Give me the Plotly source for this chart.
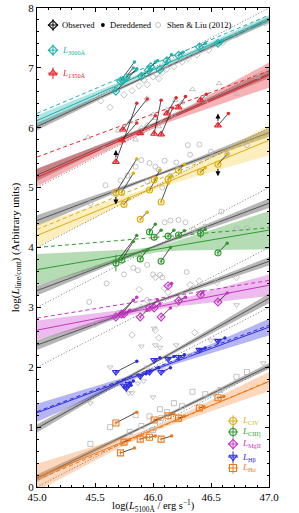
import numpy as np
import plotly.graph_objects as go

# ---------------- data ----------------
names = ["L3000", "L1350", "CIV", "CIII", "MgII", "Hb", "Ha"]
labels = ["<i>L</i><sub>3000Å</sub>", "<i>L</i><sub>1350Å</sub>", "<i>L</i><sub>CIV</sub>",
          "<i>L</i><sub>CIII]</sub>", "<i>L</i><sub>MgII</sub>", "<i>L</i><sub>Hβ</sub>", "<i>L</i><sub>Hα</sub>"]
colors = ["#1bb3ad", "#e8232b", "#dcae10", "#2e9b2e", "#c534c5", "#2a2ae0", "#f07818"]
band_rgb = ["27,179,173", "232,35,43", "250,205,70", "46,155,46", "205,60,205", "42,42,224", "250,140,60"]
symbols = ["diamond", "triangle-up", "circle", "circle", "diamond", "triangle-down", "square"]

# colored fit lines (log L_line at logL5100 = 45 and 47) and confidence half widths
fit_y45 = [6.12, 5.17, 4.20, 3.63, 2.62, 1.24, 0.16]
fit_y47 = [7.82, 6.88, 5.79, 4.29, 3.37, 2.67, 1.76]
fit_hw_min = [0.03, 0.04, 0.04, 0.05, 0.04, 0.03, 0.04]
fit_hw_lo = [0.09, 0.15, 0.19, 0.26, 0.16, 0.15, 0.23]
fit_hw_hi = [0.06, 0.21, 0.25, 0.32, 0.18, 0.14, 0.16]

# Shen & Liu (2012) fit lines (gray)
sl_y45 = [6.02, 5.21, 4.45, 3.28, 2.37, 0.98, 0.15]
sl_y47 = [7.80, 6.90, 5.92, 4.74, 3.77, 3.15, 2.02]
sl_hw_min = [0.02, 0.02, 0.02, 0.02, 0.02, 0.02, 0.02]
sl_hw_lo = [0.06, 0.10, 0.09, 0.08, 0.08, 0.07, 0.06]
sl_hw_hi = [0.05, 0.07, 0.07, 0.08, 0.07, 0.08, 0.05]

# dashed colored lines
dash_y45 = [6.24, 5.51, 4.30, 4.00, 2.82, 1.26, 0.12]
dash_y47 = [7.88, 6.95, 5.90, 4.33, 3.45, 2.70, 1.77]

# slope-one reference (dotted)
dot_y45 = [6, 5, 4, 3, 2, 1, 0]

# observed points
obs_x = [
    [45.68, 45.72, 45.74, 45.77, 45.90, 45.96, 45.98, 46.06, 46.12, 46.22, 46.40, 46.56],
    [45.68, 45.73, 45.74, 45.89, 46.01, 46.07, 46.12, 46.22, 46.41, 46.56],
    [45.68, 45.73, 45.75, 45.89, 45.97, 46.01, 46.07, 46.13, 46.22, 46.41, 46.56],
    [45.68, 45.73, 45.89, 45.97, 46.01, 46.07, 46.13, 46.22, 46.41, 46.56],
    [45.68, 45.73, 45.75, 45.89, 45.97, 46.01, 46.07, 46.13, 46.22, 46.41, 46.56],
    [45.68, 45.75, 45.77, 45.79, 45.89, 45.97, 46.01, 46.07, 46.13, 46.22, 46.40, 46.56],
    [45.68, 45.72, 45.75, 45.89, 45.97, 46.01, 46.07, 46.13, 46.22, 46.40, 46.56],
]
obs_y = [
    [6.61, 6.78, 6.79, 6.84, 6.86, 6.96, 7.02, 6.97, 7.12, 7.21, 7.35, 7.41],
    [5.43, 5.79, 5.97, 5.91, 5.90, 5.89, 6.24, 6.34, 6.46, 6.04],
    [4.92, 4.92, 4.72, 4.47, 4.96, 5.13, 4.76, 5.14, 5.29, 5.26, 5.39],
    [3.74, 3.79, 3.81, 4.26, 4.17, 3.77, 4.19, 4.21, 4.24, 3.91],
    [2.84, 2.89, 2.89, 2.84, 3.00, 2.99, 2.84, 3.36, 3.11, 3.21, 3.09],
    [1.92, 1.69, 1.65, 1.72, 1.85, 1.92, 2.12, 1.92, 2.14, 2.17, 2.29, 2.44],
    [1.07, 0.57, 0.75, 0.80, 0.83, 1.12, 0.80, 1.19, 1.15, 1.32, 1.49],
]
obs_yerr = [
    [0.03] * 12,
    [0.03] * 10,
    [0.03] * 11,
    [0.14, 0.04, 0.04, 0.05, 0.04, 0.04, 0.04, 0.04, 0.08, 0.04],
    [0.03] * 11,
    [0.03] * 12,
    [0.03] * 11,
]
# dereddened points
der_x = [
    [45.86, 45.84, 45.83, 45.86, 45.98, 46.02, 46.04, 46.12, 46.16, 46.26, 46.45, 46.60],
    [45.86, 45.86, 45.95, 46.02, 46.07, 46.17, 46.20, 46.28, 46.46, 46.65],
    [45.86, 45.83, 45.79, 45.95, 46.03, 46.06, 46.13, 46.16, 46.27, 46.45, 46.64],
    [45.86, 45.83, 45.95, 46.02, 46.07, 46.15, 46.18, 46.27, 46.45, 46.64],
    [45.86, 45.83, 45.80, 45.95, 46.04, 46.06, 46.15, 46.16, 46.28, 46.43, 46.64],
    [45.86, 45.80, 45.81, 45.83, 45.94, 46.05, 46.06, 46.15, 46.18, 46.27, 46.45, 46.62],
    [45.86, 45.84, 45.80, 45.94, 46.02, 46.06, 46.16, 46.18, 46.27, 46.44, 46.61],
]
der_y = [
    [6.98, 7.10, 7.00, 6.98, 6.97, 7.10, 7.12, 7.08, 7.22, 7.26, 7.41, 7.45],
    [6.41, 6.08, 6.48, 6.20, 6.46, 6.33, 6.50, 6.52, 6.56, 6.24],
    [5.48, 5.24, 4.82, 4.59, 5.16, 5.29, 5.07, 5.20, 5.39, 5.33, 5.56],
    [4.20, 4.10, 3.96, 4.39, 4.29, 4.00, 4.29, 4.28, 4.30, 4.07],
    [3.17, 3.12, 2.95, 2.95, 3.12, 3.06, 2.99, 3.40, 3.17, 3.26, 3.24],
    [2.10, 1.74, 1.70, 1.77, 1.89, 1.99, 2.16, 1.99, 2.18, 2.21, 2.32, 2.49],
    [1.25, 0.65, 0.79, 0.83, 0.85, 1.14, 0.85, 1.22, 1.18, 1.34, 1.51],
]
# limits: (group index, point index, direction)
lim_group = [1, 1, 2, 2]
lim_index = [0, 9, 0, 10]
lim_dir = [1, 1, -1, -1]

# Shen & Liu (2012) sample
sl_x = [
    [45.63, 45.75, 45.82, 45.88, 45.92, 45.95, 46.00, 46.03, 46.08, 46.12, 46.18, 46.25, 46.30, 46.38, 46.48, 46.60, 46.72, 46.81, 46.97, 45.95, 46.05, 45.55],
    [45.44, 45.58, 45.70, 45.80, 45.90, 45.95, 46.00, 46.02, 46.08, 46.12, 46.18, 46.25, 46.34, 46.45, 46.57, 46.72, 46.90, 45.85, 46.05, 46.19],
    [45.46, 45.59, 45.66, 45.78, 45.85, 45.90, 45.95, 45.97, 46.02, 46.05, 46.10, 46.15, 46.20, 46.30, 46.32, 46.40, 46.50, 46.64, 46.81, 45.72, 46.08],
    [45.45, 45.60, 45.75, 45.83, 45.87, 45.95, 46.06, 46.08, 46.10, 46.15, 46.22, 46.28, 46.35, 46.45, 46.59, 46.72, 46.81, 46.00, 46.29],
    [45.50, 45.70, 45.82, 45.90, 45.95, 46.00, 46.02, 46.05, 46.10, 46.13, 46.20, 46.25, 46.32, 46.40, 46.55, 46.72, 45.88, 46.02, 46.36],
    [45.46, 45.63, 45.79, 45.82, 45.87, 45.92, 45.95, 46.00, 46.02, 46.06, 46.10, 46.20, 46.30, 46.50, 46.72, 46.95, 46.01, 45.90],
    [45.46, 45.63, 45.80, 45.90, 45.97, 46.00, 46.06, 46.12, 46.18, 46.25, 46.34, 46.45, 46.58, 46.72, 46.81, 46.07, 45.85],
]
sl_yv = [
    [6.34, 6.55, 6.62, 6.70, 6.80, 6.48, 6.85, 6.90, 6.92, 6.98, 7.02, 7.10, 7.16, 7.22, 7.30, 7.42, 7.55, 7.66, 7.75, 6.72, 6.82, 6.45],
    [5.84, 5.65, 5.95, 6.10, 6.00, 6.05, 6.22, 6.16, 6.10, 6.30, 6.20, 6.42, 6.64, 6.45, 6.74, 6.56, 6.85, 5.80, 6.02, 6.46],
    [4.74, 5.04, 4.90, 5.20, 5.35, 5.46, 5.10, 5.41, 5.35, 5.30, 5.45, 5.20, 5.42, 5.71, 5.55, 5.72, 5.60, 5.56, 5.71, 5.12, 5.00],
    [3.09, 3.40, 3.55, 3.66, 3.62, 3.71, 3.54, 3.50, 4.42, 4.45, 4.46, 4.42, 4.30, 4.35, 4.60, 4.32, 4.32, 3.55, 3.59],
    [2.72, 2.90, 2.54, 3.00, 3.12, 3.08, 2.62, 2.49, 3.32, 3.25, 3.05, 3.20, 3.38, 3.44, 3.42, 3.50, 3.30, 3.50, 2.58],
    [1.40, 2.00, 1.57, 1.57, 1.73, 1.77, 2.00, 1.50, 2.37, 2.33, 1.95, 2.37, 2.20, 2.45, 3.04, 2.07, 2.65, 2.35],
    [0.72, 1.00, 0.92, 1.02, 1.18, 0.95, 1.30, 1.25, 1.40, 1.35, 1.59, 1.55, 1.62, 1.84, 1.92, 1.15, 1.20],
]

x_ticks = [45.0, 45.5, 46.0, 46.5, 47.0]
y_ticks = [0, 1, 2, 3, 4, 5, 6, 7, 8]

FONT = "Liberation Serif"
GRAY_SYM = "#b4b4b4"

fig = go.Figure()
xs = np.linspace(45, 47, 61)


def band(y0, y1, hmin, hlo, hhi):
    line = y0 + (y1 - y0) * (xs - 45) / 2.0
    d = xs - 46.0
    hw = np.where(d < 0, np.sqrt(hmin ** 2 + (hlo ** 2 - hmin ** 2) * d ** 2),
                  np.sqrt(hmin ** 2 + (hhi ** 2 - hmin ** 2) * d ** 2))
    return line, line + hw, line - hw


for g in range(len(names)):
    ln, up, lo = band(sl_y45[g], sl_y47[g], sl_hw_min[g], sl_hw_lo[g], sl_hw_hi[g])
    fig.add_trace(go.Scatter(x=np.concatenate([xs, xs[::-1]]), y=np.concatenate([up, lo[::-1]]),
                             fill="toself", fillcolor="rgba(110,110,110,0.5)", line=dict(width=0),
                             mode="lines", hoverinfo="skip", showlegend=False))
    fig.add_trace(go.Scatter(x=xs, y=ln, mode="lines", line=dict(color="#555555", width=1),
                             showlegend=False))
    ln, up, lo = band(fit_y45[g], fit_y47[g], fit_hw_min[g], fit_hw_lo[g], fit_hw_hi[g])
    fig.add_trace(go.Scatter(x=np.concatenate([xs, xs[::-1]]), y=np.concatenate([up, lo[::-1]]),
                             fill="toself", fillcolor=f"rgba({band_rgb[g]},0.35)", line=dict(width=0),
                             mode="lines", hoverinfo="skip", showlegend=False))
    fig.add_trace(go.Scatter(x=xs, y=ln, mode="lines", line=dict(color=colors[g], width=1),
                             showlegend=False))
    fig.add_trace(go.Scatter(x=[45, 47], y=[dash_y45[g], dash_y47[g]], mode="lines",
                             line=dict(color=colors[g], width=1, dash="4px,3px"), showlegend=False))
    fig.add_trace(go.Scatter(x=[45, 47], y=[dot_y45[g], dot_y45[g] + 2], mode="lines",
                             line=dict(color="#666666", width=0.9, dash="1px,2px"), showlegend=False))

for g in range(len(names)):
    fig.add_trace(go.Scatter(x=sl_x[g], y=sl_yv[g], mode="markers",
                             marker=dict(symbol=symbols[g] + "-open", size=5, color=GRAY_SYM,
                                         line=dict(width=0.8, color=GRAY_SYM)),
                             showlegend=False))

for g in range(len(names)):
    cx, cy = [], []
    for i in range(len(obs_x[g])):
        cx += [obs_x[g][i], der_x[g][i], None]
        cy += [obs_y[g][i], der_y[g][i], None]
    fig.add_trace(go.Scatter(x=cx, y=cy, mode="lines", line=dict(color="#222222", width=0.8),
                             showlegend=False))
    fig.add_trace(go.Scatter(x=obs_x[g], y=obs_y[g], mode="markers",
                             marker=dict(symbol=symbols[g] + "-open", size=6, color=colors[g],
                                         line=dict(width=1.1, color=colors[g])),
                             error_x=dict(type="constant", value=0.012, color=colors[g], thickness=1, width=0),
                             error_y=dict(type="data", array=obs_yerr[g], color=colors[g], thickness=1, width=0),
                             showlegend=False))
    fig.add_trace(go.Scatter(x=der_x[g], y=der_y[g], mode="markers",
                             marker=dict(symbol="circle", size=3.5, color=colors[g]),
                             showlegend=False))

annotations = []
for k in range(len(lim_group)):
    g, i, d = lim_group[k], lim_index[k], lim_dir[k]
    x0, y0 = obs_x[g][i], obs_y[g][i]
    annotations.append(dict(x=x0, y=y0 + d * 0.2, ax=x0, ay=y0 + d * 0.05, xref="x", yref="y",
                            axref="x", ayref="y", showarrow=True, arrowhead=2, arrowsize=1,
                            arrowwidth=1, arrowcolor="black", text=""))

# ------------- legend (drawn on an overlay axis in plot fractions) -------------
leg_top_x = [0.069, 0.284, 0.522]
leg_top_y = 0.9645
leg_top_text = ["Observed", "Dereddened", "Shen & Liu (2012)"]
leg_top_tx = [0.097, 0.306, 0.552]
fig.add_trace(go.Scatter(x=[leg_top_x[0]], y=[leg_top_y], xaxis="x2", yaxis="y2", mode="markers",
                         marker=dict(symbol="diamond-open", size=7, color="black", line=dict(width=1.1)),
                         error_x=dict(type="constant", value=0.022, color="black", thickness=1, width=0),
                         error_y=dict(type="constant", value=0.012, color="black", thickness=1, width=0),
                         showlegend=False))
fig.add_trace(go.Scatter(x=[leg_top_x[1]], y=[leg_top_y], xaxis="x2", yaxis="y2", mode="markers",
                         marker=dict(symbol="circle", size=3.8, color="black"), showlegend=False))
fig.add_trace(go.Scatter(x=[leg_top_x[2]], y=[leg_top_y], xaxis="x2", yaxis="y2", mode="markers",
                         marker=dict(symbol="circle-open", size=5, color=GRAY_SYM, line=dict(width=0.8)),
                         showlegend=False))
for t, tx in zip(leg_top_text, leg_top_tx):
    annotations.append(dict(x=tx, y=leg_top_y, xref="x2", yref="y2", text=t, showarrow=False,
                            xanchor="left", yanchor="middle", font=dict(size=8.5, color="black", family=FONT)))

leg_icon_x = [0.069, 0.069, 0.845, 0.845, 0.845, 0.845, 0.845]
leg_text_x = [0.097, 0.097, 0.873, 0.873, 0.873, 0.873, 0.873]
leg_y = [0.912, 0.864, 0.1378, 0.1148, 0.0898, 0.0626, 0.0397]
for g in range(len(names)):
    fig.add_trace(go.Scatter(x=[leg_icon_x[g]], y=[leg_y[g]], xaxis="x2", yaxis="y2", mode="markers",
                             marker=dict(symbol=symbols[g] + "-open", size=7, color=colors[g],
                                         line=dict(width=1.1, color=colors[g])),
                             error_x=dict(type="constant", value=0.022, color=colors[g], thickness=1, width=0),
                             error_y=dict(type="constant", value=0.012, color=colors[g], thickness=1, width=0),
                             showlegend=False))
    annotations.append(dict(x=leg_text_x[g], y=leg_y[g], xref="x2", yref="y2", text=labels[g],
                            showarrow=False, xanchor="left", yanchor="middle",
                            font=dict(size=9, color=colors[g], family=FONT)))

# x-axis title as annotation just below the tick labels
annotations.append(dict(x=0.5, y=-0.039, xref="paper", yref="paper", xanchor="center", yanchor="middle",
                        text="log(<i>L</i><sub>5100Å</sub> / erg s<sup>−1</sup>)", showarrow=False,
                        font=dict(size=10.5, family=FONT, color="black")))

axis_common = dict(showline=True, linecolor="black", linewidth=1, mirror="allticks", ticks="inside",
                   ticklen=4, tickwidth=0.8, tickcolor="black", showgrid=False, zeroline=False,
                   tickfont=dict(size=11, family=FONT, color="black"), automargin=False)

fig.update_layout(
    width=299, height=513,
    margin=dict(l=37, r=30, t=8, b=26),
    plot_bgcolor="white", paper_bgcolor="white",
    font=dict(family=FONT, color="black"),
    showlegend=False,
    xaxis=dict(range=[45, 47], tickvals=x_ticks, ticktext=[f"{v:.1f}" for v in x_ticks],
               minor=dict(dtick=0.1, ticks="inside", ticklen=2, tickcolor="black"),
               **axis_common),
    yaxis=dict(range=[0, 8], tickvals=y_ticks,
               minor=dict(dtick=0.2, ticks="inside", ticklen=2, tickcolor="black"),
               title=dict(text="log(<i>L</i><sub>line/cont</sub>) (Arbitrary units)",
                          font=dict(size=11, family=FONT), standoff=6),
               **axis_common),
    xaxis2=dict(range=[0, 1], overlaying="x", anchor="y2", visible=False),
    yaxis2=dict(range=[0, 1], overlaying="y", anchor="x2", visible=False),
    annotations=annotations,
)

fig.write_html("out.html", config={"displayModeBar": False},
               post_script="document.body.style.margin='0';document.body.style.overflow='hidden';")
